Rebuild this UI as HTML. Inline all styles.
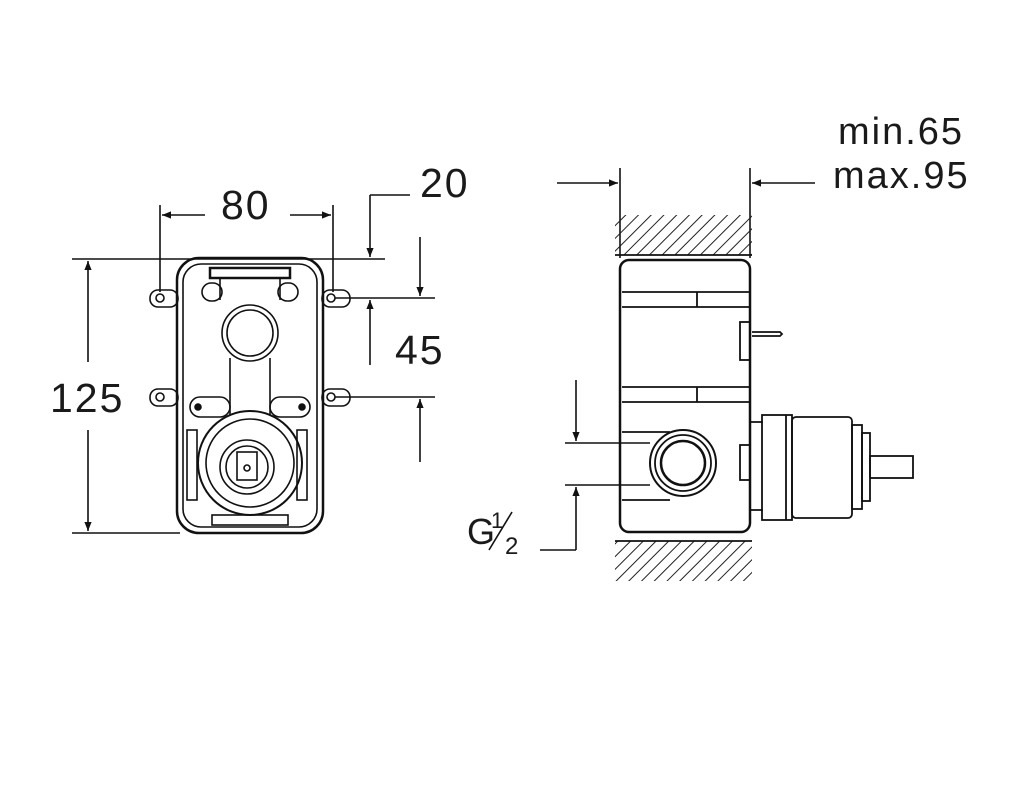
<!DOCTYPE html>
<html><head><style>
html,body{margin:0;padding:0;background:#fff;}
svg{display:block}
text{font-family:"Liberation Sans",sans-serif;fill:#1a1a1a}
</style></head><body>
<svg width="1024" height="802" viewBox="0 0 1024 802" xmlns="http://www.w3.org/2000/svg">
<defs>
<marker id="a" viewBox="0 0 10 10" refX="10" refY="5" markerWidth="9" markerHeight="9" orient="auto-start-reverse" markerUnits="userSpaceOnUse"><path d="M0,1 L10,5 L0,9 z" fill="#111"/></marker>
<pattern id="h" width="9" height="9" patternUnits="userSpaceOnUse" patternTransform="rotate(45)"><line x1="0" y1="0" x2="0" y2="9" stroke="#222" stroke-width="2"/></pattern>
</defs>
<g stroke="#111" stroke-width="1.6" fill="none">
<line x1="72" y1="259" x2="385" y2="259"/>
<line x1="72" y1="533" x2="180" y2="533"/>
<line x1="88" y1="362" x2="88" y2="261" marker-end="url(#a)"/>
<line x1="88" y1="430" x2="88" y2="531" marker-end="url(#a)"/>
<line x1="160" y1="205" x2="160" y2="292"/>
<line x1="333" y1="205" x2="333" y2="292"/>
<line x1="205" y1="215" x2="162" y2="215" marker-end="url(#a)"/>
<line x1="290" y1="215" x2="331" y2="215" marker-end="url(#a)"/>
<line x1="410" y1="195" x2="370" y2="195"/>
<line x1="370" y1="195" x2="370" y2="257" marker-end="url(#a)"/>
<line x1="370" y1="365" x2="370" y2="300" marker-end="url(#a)"/>
<line x1="335" y1="298" x2="435" y2="298"/>
<line x1="335" y1="397" x2="435" y2="397"/>
<line x1="420" y1="237" x2="420" y2="296" marker-end="url(#a)"/>
<line x1="420" y1="462" x2="420" y2="399" marker-end="url(#a)"/>
<rect x="177" y="258" width="146" height="275" rx="22" stroke-width="2.5"/>
<rect x="183" y="264" width="134" height="263" rx="18"/>
<rect x="150" y="290" width="28" height="17" rx="8"/><circle cx="160" cy="298" r="4"/>
<rect x="150" y="389" width="28" height="17" rx="8"/><circle cx="160" cy="397" r="4"/>
<rect x="322" y="290" width="28" height="17" rx="8"/><circle cx="331" cy="298" r="4"/>
<rect x="322" y="389" width="28" height="17" rx="8"/><circle cx="331" cy="397" r="4"/>
<rect x="210" y="268" width="80" height="10" stroke-width="2.5"/>
<path d="M220 278 L220 300 M280 278 L280 300"/>
<rect x="202" y="283" width="20" height="18" rx="9"/><rect x="278" y="283" width="20" height="18" rx="9"/>
<circle cx="250" cy="333" r="28"/><circle cx="250" cy="333" r="23"/>
<path d="M230 358 L230 415 M270 358 L270 415"/>
<rect x="190" y="397" width="40" height="20" rx="10"/><rect x="270" y="397" width="40" height="20" rx="10"/>
<circle cx="198" cy="407" r="3" fill="#111"/><circle cx="302" cy="407" r="3" fill="#111"/>
<circle cx="250" cy="463" r="52" stroke-width="2"/><circle cx="250" cy="463" r="44"/>
<circle cx="247" cy="467" r="27"/><circle cx="247" cy="467" r="21"/>
<rect x="237" y="452" width="20" height="28"/><circle cx="247" cy="468" r="3"/>
<rect x="187" y="430" width="10" height="70"/><rect x="297" y="430" width="10" height="70"/>
<rect x="212" y="515" width="76" height="10"/>
<line x1="620" y1="168" x2="620" y2="258"/>
<line x1="750" y1="168" x2="750" y2="258"/>
<line x1="557" y1="183" x2="618" y2="183" marker-end="url(#a)"/>
<line x1="815" y1="183" x2="752" y2="183" marker-end="url(#a)"/>
<line x1="565" y1="443" x2="650" y2="443"/>
<line x1="565" y1="485" x2="650" y2="485"/>
<line x1="576" y1="380" x2="576" y2="441" marker-end="url(#a)"/>
<line x1="576" y1="550" x2="576" y2="487" marker-end="url(#a)"/>
<line x1="540" y1="550" x2="576" y2="550"/>
</g>
<rect x="615" y="215" width="137" height="40" fill="url(#h)"/>
<rect x="615" y="541" width="137" height="40" fill="url(#h)"/>
<g stroke="#111" stroke-width="1.8" fill="none">
<line x1="615" y1="255" x2="752" y2="255"/>
<line x1="615" y1="541" x2="752" y2="541"/>
<rect x="620" y="260" width="130" height="272" rx="9" stroke-width="2.5"/>
<path d="M622 292 H750 M622 307 H750 M697 292 V307 M622 387 H750 M622 402 H750 M697 387 V402"/>
<path d="M622 432 H670 M622 500 H670"/>
<circle cx="683" cy="463" r="33" stroke-width="2"/><circle cx="683" cy="463" r="28"/><circle cx="683" cy="463" r="22" stroke-width="2.5"/>
<rect x="740" y="322" width="10" height="38"/>
<path d="M752 332 H780 L782 334 L780 336 H752"/>
<rect x="740" y="445" width="10" height="35"/>
<path d="M750 422 H763 M750 510 H763"/>
<rect x="762" y="415" width="30" height="105"/>
<line x1="786" y1="415" x2="786" y2="520"/>
<rect x="792" y="417" width="60" height="101" rx="4"/>
<rect x="852" y="425" width="10" height="84"/>
<rect x="862" y="433" width="8" height="68"/>
<rect x="870" y="456" width="43" height="22"/>
</g>
<g font-size="41">
<text x="221" y="219" letter-spacing="2">80</text>
<text x="420" y="197" letter-spacing="2">20</text>
<text x="395" y="364" letter-spacing="2">45</text>
<text x="50" y="412" letter-spacing="2">125</text>
<text x="838" y="144" font-size="38" letter-spacing="2">min.65</text>
<text x="833" y="188" font-size="38" letter-spacing="2">max.95</text>
<text x="467" y="544" font-size="36">G</text>
<text x="491" y="528" font-size="22">1</text>
<line x1="489" y1="550" x2="512" y2="512" stroke="#111" stroke-width="1.6"/>
<text x="505" y="554" font-size="24">2</text>
</g>
</svg>
</body></html>
